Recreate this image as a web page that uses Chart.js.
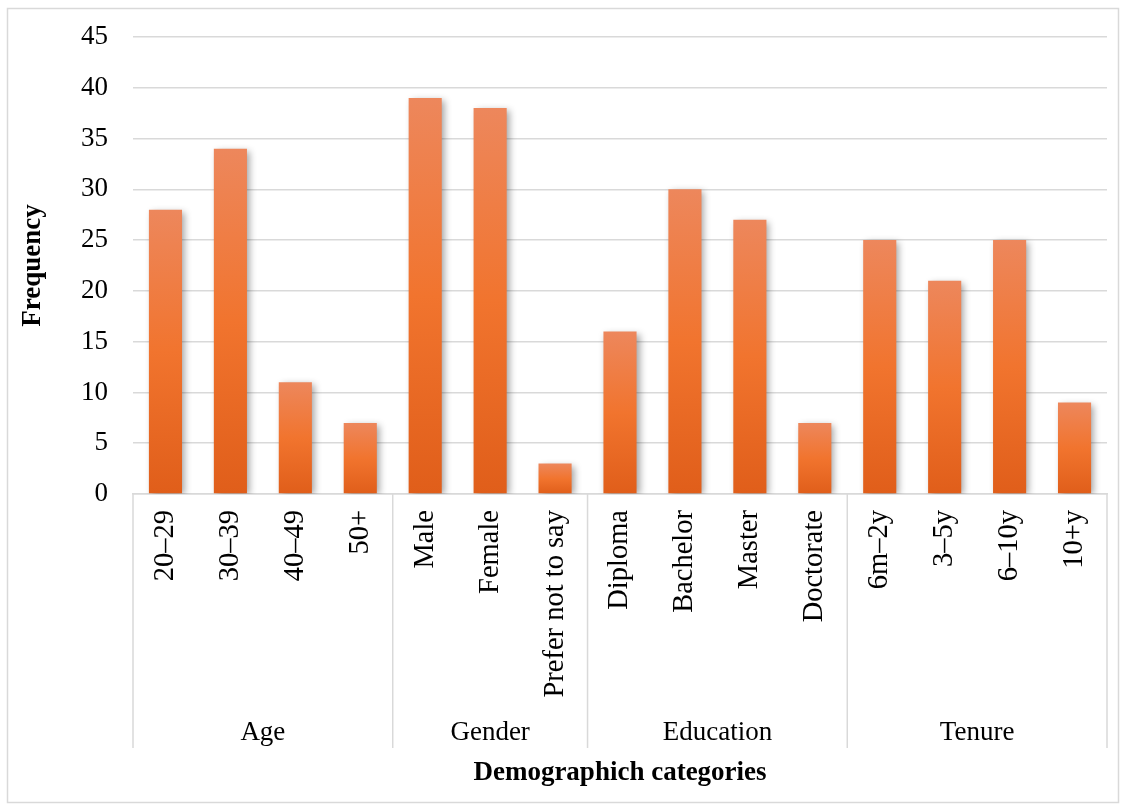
<!DOCTYPE html>
<html>
<head>
<meta charset="utf-8">
<title>Demographic categories</title>
<script src="https://cdn.jsdelivr.net/npm/chart.js@4.4.1/dist/chart.umd.min.js"></script>
<style>
  html, body { margin: 0; padding: 0; background: #ffffff; }
  canvas { display: block; }
</style>
</head>
<body>
<canvas id="chart" width="1126" height="810"></canvas>
<script>
// Respondent counts per demographic category
const categories = ['20–29', '30–39', '40–49', '50+',
                    'Male', 'Female', 'Prefer not to say',
                    'Diploma', 'Bachelor', 'Master', 'Doctorate',
                    '6m–2y', '3–5y', '6–10y', '10+y'];
const frequency = [28, 34, 11, 7,
                   39, 38, 3,
                   16, 30, 27, 7,
                   25, 21, 25, 9];
const groupNames = ['Age', 'Gender', 'Education', 'Tenure'];
const groupSizes = [4, 3, 4, 4];
const yTicks = [0, 5, 10, 15, 20, 25, 30, 35, 40, 45];

const FONT = 'Liberation Serif, "Times New Roman", serif';
const GRID = '#d9d9d9';
const TEXT = '#000000';

// Vertical gradient per bar, light at the top and deeper orange at the base
function barGradient(context) {
  const chart = context.chart;
  const y = chart.scales.y;
  if (!chart.chartArea || !y || context.raw === undefined) return '#F1742E';
  const top = y.getPixelForValue(context.raw);
  const base = y.getPixelForValue(0);
  const g = chart.ctx.createLinearGradient(0, top, 0, base);
  g.addColorStop(0, '#ED875C');
  g.addColorStop(0.5, '#F1742E');
  g.addColorStop(1, '#E05E1A');
  return g;
}

// Soft drop shadow behind the bars
const barShadow = {
  id: 'barShadow',
  beforeDatasetsDraw(chart) {
    const ctx = chart.ctx;
    ctx.save();
    ctx.shadowColor = 'rgba(0,0,0,0.36)';
    ctx.shadowBlur = 7;
    ctx.shadowOffsetX = 3;
    ctx.shadowOffsetY = 2;
  },
  afterDatasetsDraw(chart) {
    chart.ctx.restore();
  }
};

// Group row under the category labels, with separators between groups
const groupAxis = {
  id: 'groupAxis',
  afterDraw(chart) {
    const ctx = chart.ctx;
    const x = chart.scales.x;
    const top = chart.chartArea.bottom;
    const lineBottom = 748;
    const labelY = 733;
    const bounds = [x.left];
    let idx = 0;
    groupSizes.forEach((n, gi) => {
      idx += n;
      if (gi < groupSizes.length - 1) {
        bounds.push((x.getPixelForValue(idx - 1) + x.getPixelForValue(idx)) / 2);
      } else {
        bounds.push(x.right);
      }
    });
    ctx.save();
    ctx.strokeStyle = GRID;
    ctx.lineWidth = 1.5;
    bounds.forEach(bx => {
      ctx.beginPath();
      ctx.moveTo(bx, top);
      ctx.lineTo(bx, lineBottom);
      ctx.stroke();
    });
    ctx.fillStyle = TEXT;
    ctx.font = '27px ' + FONT;
    ctx.textAlign = 'center';
    ctx.textBaseline = 'middle';
    groupNames.forEach((name, gi) => {
      ctx.fillText(name, (bounds[gi] + bounds[gi + 1]) / 2, labelY);
    });
    // outer frame of the chart
    ctx.strokeStyle = GRID;
    ctx.lineWidth = 1.5;
    ctx.strokeRect(7.5, 8.5, 1111, 794);
    ctx.restore();
  }
};

new Chart(document.getElementById('chart'), {
  type: 'bar',
  data: {
    labels: categories,
    datasets: [{
      label: 'Frequency',
      data: frequency,
      backgroundColor: barGradient,
      borderWidth: 0,
      categoryPercentage: 1,
      barPercentage: 0.51
    }]
  },
  options: {
    responsive: false,
    animation: false,
    layout: { padding: { left: 8, right: 19, top: 37, bottom: 8 } },
    plugins: {
      legend: { display: false },
      tooltip: { enabled: false }
    },
    scales: {
      x: {
        grid: { display: false, drawTicks: false },
        border: { display: true, color: GRID, width: 1.5 },
        ticks: {
          color: TEXT,
          font: { family: FONT, size: 28.5 },
          minRotation: 90,
          maxRotation: 90,
          autoSkip: false,
          padding: 16
        },
        title: {
          display: true,
          text: 'Demographich categories',
          color: TEXT,
          font: { family: FONT, size: 27, weight: 'bold' },
          padding: { top: 0, bottom: 13 }
        },
        afterFit(scale) { scale.height = 308; }
      },
      y: {
        min: 0,
        max: 45,
        afterBuildTicks(scale) { scale.ticks = yTicks.map(v => ({ value: v })); },
        grid: { color: GRID, lineWidth: 1.5, drawTicks: false },
        border: { display: false },
        ticks: {
          color: TEXT,
          font: { family: FONT, size: 27 },
          padding: 25
        },
        title: {
          display: true,
          text: 'Frequency',
          color: TEXT,
          font: { family: FONT, size: 27, weight: 'bold' },
          padding: { top: 9, bottom: 0 }
        },
        afterFit(scale) {
          scale.width = 125;
          scale.paddingTop = 0;
          scale.paddingBottom = 0;
        }
      }
    }
  },
  plugins: [barShadow, groupAxis]
});
</script>
</body>
</html>
